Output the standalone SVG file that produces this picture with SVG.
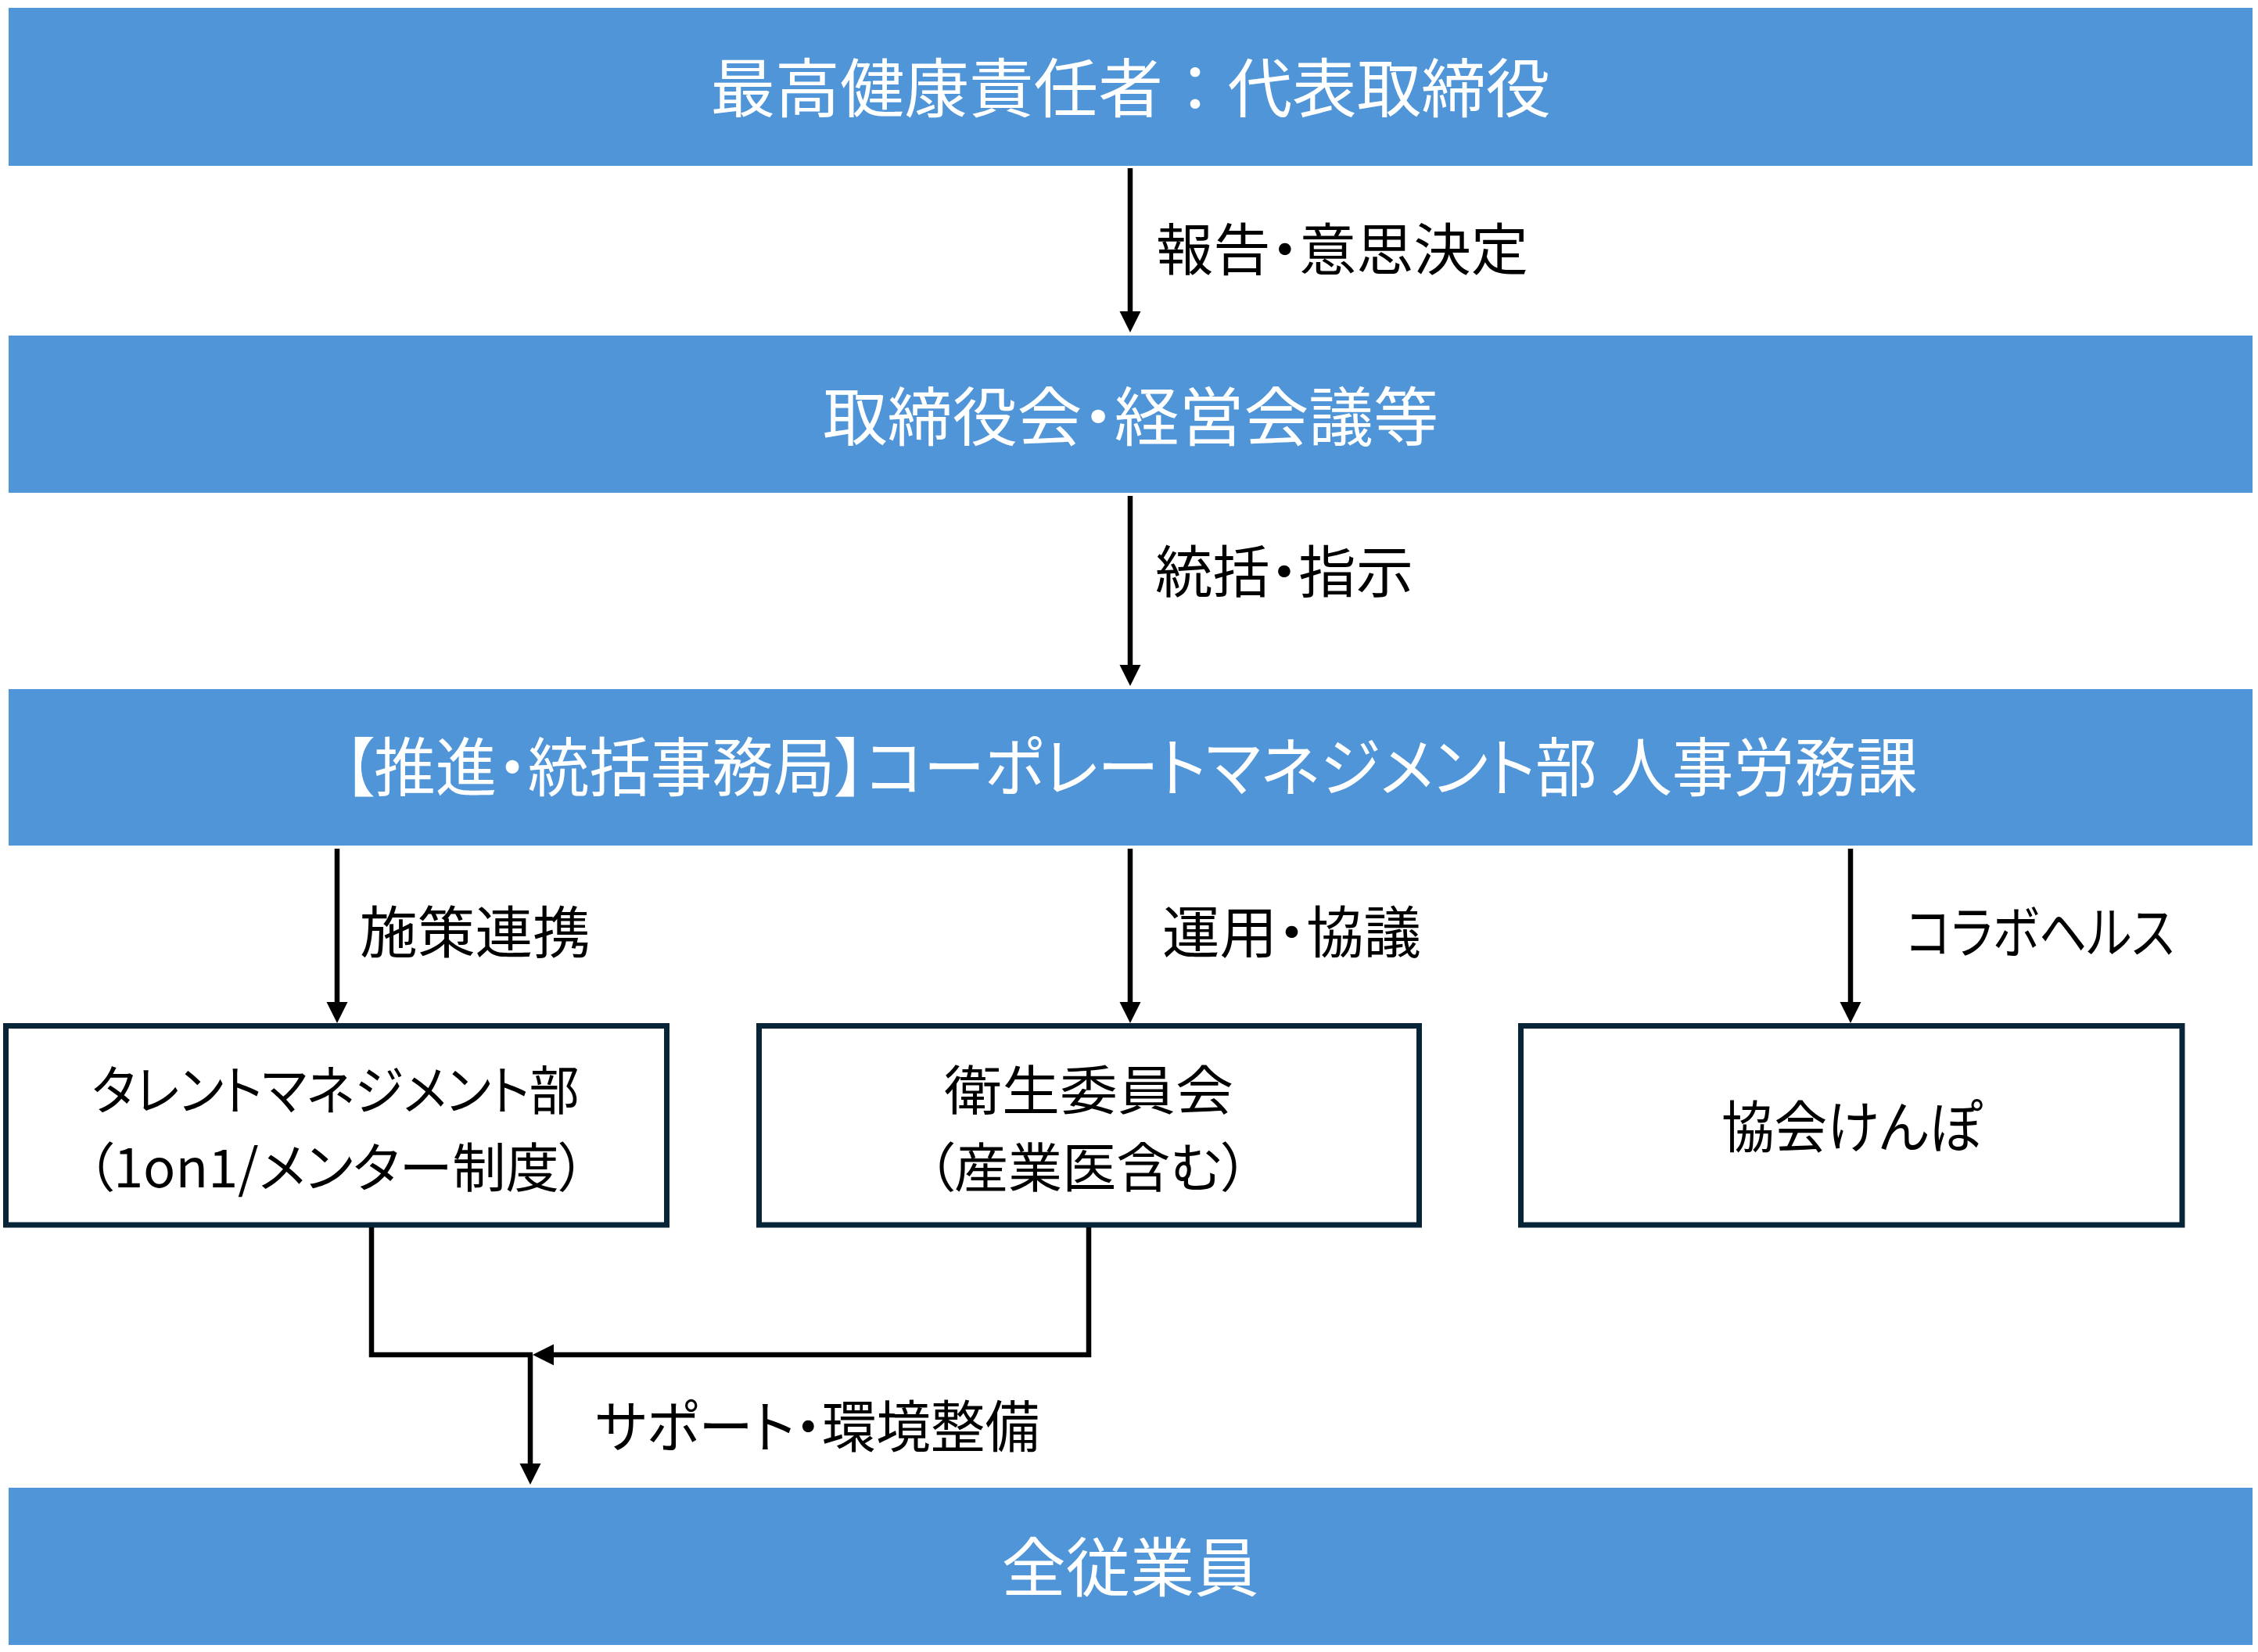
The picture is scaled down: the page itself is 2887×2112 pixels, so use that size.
<svg xmlns="http://www.w3.org/2000/svg" width="2887" height="2112" viewBox="0 0 2887 2112">
<style>
  .band { fill: #4F95D8; }
  .box { fill: #FFFFFF; stroke: #072536; stroke-width: 7; }
  .t { font-family: "Noto Sans CJK JP", "Noto Sans", sans-serif; font-feature-settings: "palt"; }
  .np { font-feature-settings: normal; }
  .w { fill: #FFFFFF; font-size: 82px; text-anchor: middle; }
  .lbl { fill: #000000; font-size: 72px; }
  .bt { fill: #000000; font-size: 72px; text-anchor: middle; }
  .bt2 { font-size: 68px; }
  .conn { fill: none; stroke: #000000; stroke-width: 6.5; }
</style>
<defs>
  <marker id="arr" markerUnits="userSpaceOnUse" markerWidth="28" markerHeight="28" refX="7" refY="13.5" orient="auto" viewBox="0 0 28 28">
    <path d="M0,0 L27,13.5 L0,27 Z" fill="#000000"/>
  </marker>
</defs>
<rect width="2887" height="2112" fill="#FFFFFF"/>

<g id="node-chief">
  <rect class="band" x="11" y="10" width="2869" height="202"/>
  <text class="t np w" x="1445.5" y="143" textLength="1074" lengthAdjust="spacingAndGlyphs">最高健康責任者：代表取締役</text>
</g>
<g id="node-board">
  <rect class="band" x="11" y="429" width="2869" height="201"/>
  <text class="t w" x="1445.5" y="563" textLength="787" lengthAdjust="spacingAndGlyphs">取締役会・経営会議等</text>
</g>
<g id="node-office">
  <rect class="band" x="11" y="881" width="2869" height="200"/>
  <text class="t w" x="1445.5" y="1011" textLength="2013" lengthAdjust="spacingAndGlyphs">【推進・統括事務局】コーポレートマネジメント部 人事労務課</text>
</g>
<g id="node-talent">
  <rect class="box" x="7.5" y="1311.5" width="845" height="254.5"/>
  <text class="t bt bt2" x="429" y="1419" textLength="623" lengthAdjust="spacingAndGlyphs">タレントマネジメント部</text>
  <text class="t bt bt2" x="430" y="1518" textLength="638" lengthAdjust="spacingAndGlyphs">（1on1/メンター制度）</text>
</g>
<g id="node-safety">
  <rect class="box" x="970.5" y="1311.5" width="844" height="254.5"/>
  <text class="t bt bt2" x="1392" y="1419" textLength="370" lengthAdjust="spacingAndGlyphs">衛生委員会</text>
  <text class="t bt bt2" x="1391" y="1518" textLength="411" lengthAdjust="spacingAndGlyphs">（産業医含む）</text>
</g>
<g id="node-kenpo">
  <rect class="box" x="1944.5" y="1311.5" width="845.5" height="254.5"/>
  <text class="t bt" x="2368" y="1467" textLength="334" lengthAdjust="spacingAndGlyphs">協会けんぽ</text>
</g>
<g id="node-all">
  <rect class="band" x="11" y="1902" width="2869" height="201"/>
  <text class="t w" x="1445" y="2034" textLength="329" lengthAdjust="spacingAndGlyphs">全従業員</text>
</g>

<g id="connectors">
  <path class="conn" d="M1445,215 V405" marker-end="url(#arr)"/>
  <path class="conn" d="M1445,634 V857" marker-end="url(#arr)"/>
  <path class="conn" d="M431,1085 V1288" marker-end="url(#arr)"/>
  <path class="conn" d="M1445,1085 V1288" marker-end="url(#arr)"/>
  <path class="conn" d="M2366,1085 V1288" marker-end="url(#arr)"/>
  <path class="conn" d="M475,1569 V1732 H681"/>
  <path class="conn" d="M1392,1569 V1732 H701" marker-end="url(#arr)"/>
  <path class="conn" d="M678,1732 V1878" marker-end="url(#arr)"/>
  <text class="t lbl" x="1478" y="345" textLength="476" lengthAdjust="spacingAndGlyphs">報告・意思決定</text>
  <text class="t lbl" x="1477" y="757" textLength="330" lengthAdjust="spacingAndGlyphs">統括・指示</text>
  <text class="t lbl" x="460" y="1218" textLength="295" lengthAdjust="spacingAndGlyphs">施策連携</text>
  <text class="t lbl" x="1486" y="1218" textLength="331" lengthAdjust="spacingAndGlyphs">運用・協議</text>
  <text class="t lbl" x="2437" y="1218" textLength="343" lengthAdjust="spacingAndGlyphs">コラボヘルス</text>
  <text class="t lbl" x="761" y="1850" textLength="568" lengthAdjust="spacingAndGlyphs">サポート・環境整備</text>
</g>
</svg>
